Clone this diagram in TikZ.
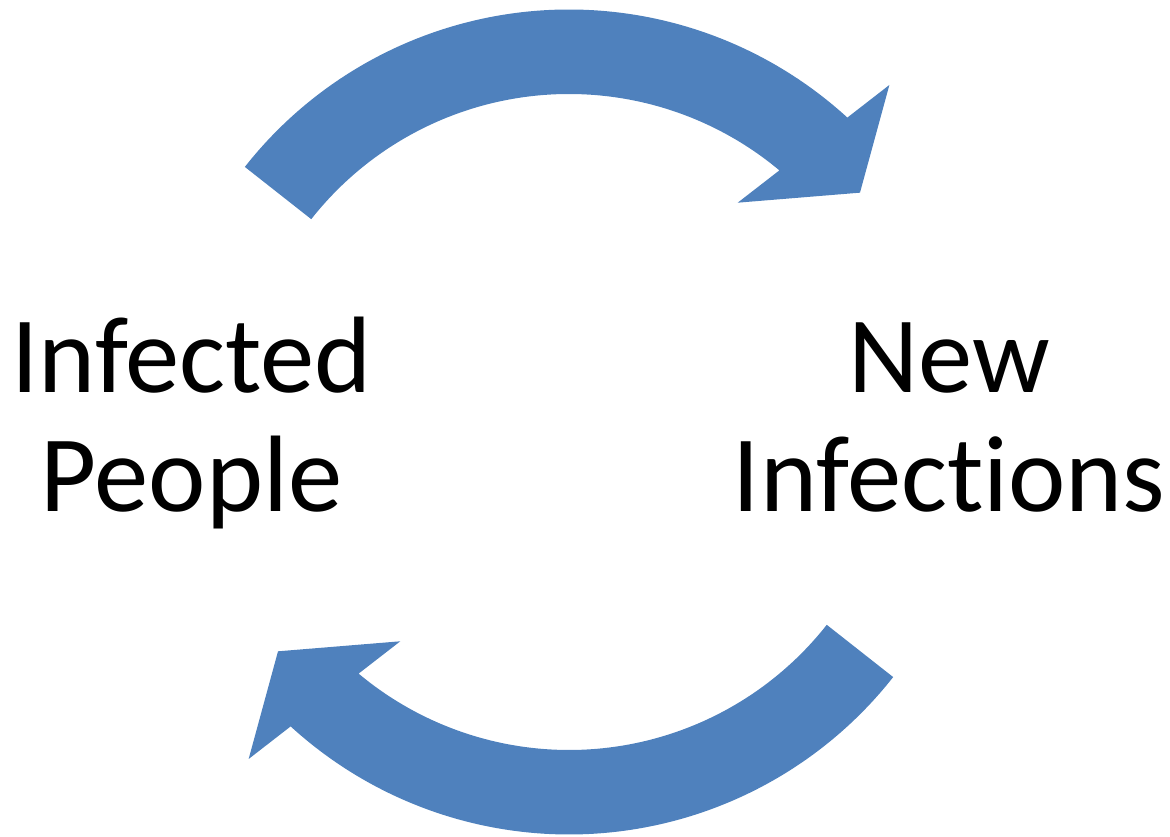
\documentclass[tikz,border=0pt]{standalone}
\usepackage{fontspec}
\setmainfont{Carlito}[Ligatures=NoCommon]
\definecolor{arrowblue}{RGB}{79,129,189}
\begin{document}
\begin{tikzpicture}[x=1pt,y=1pt,
  label/.style={inner sep=0pt, anchor=base, font=\fontsize{108.7}{119}\selectfont},
  cycarrow/.style={fill=arrowblue, draw=none}]
\useasboundingbox (0,0) rectangle (1170,837);
\coordinate (C) at (569,415);
% top arrow
\begin{scope}[shift={(C)}]
\fill[cycarrow] (141.8:412.5pt) arc[start angle=141.8, end angle=47.56, radius=412.5pt]
  -- (46.45:465pt) -- (38.24:370.5pt) -- (52.43:276.7pt) -- (50.1:328pt)
  arc[start angle=50.1, end angle=141.8, radius=328pt] -- cycle;
\end{scope}
% bottom arrow
\begin{scope}[shift={(C)}, rotate=180]
\fill[cycarrow] (141.8:412.5pt) arc[start angle=141.8, end angle=47.56, radius=412.5pt]
  -- (46.45:465pt) -- (38.24:370.5pt) -- (52.43:276.7pt) -- (50.1:328pt)
  arc[start angle=50.1, end angle=141.8, radius=328pt] -- cycle;
\end{scope}
\node[label] (ip1) at (191.5,444.5) {Infected};
\node[label] (ip2) at (191.5,325) {People};
\node[label] (ni1) at (949,444.5) {New};
\node[label] (ni2) at (949,325) {Infections};
\end{tikzpicture}
\end{document}
